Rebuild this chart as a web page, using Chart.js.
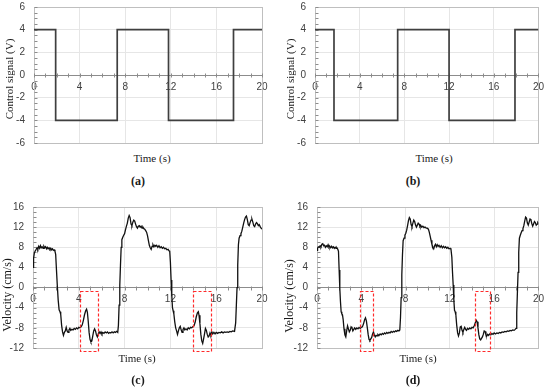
<!DOCTYPE html>
<html>
<head>
<meta charset="utf-8">
<script src="https://cdn.jsdelivr.net/npm/chart.js@4"></script>
<style>
  body { margin: 0; background: #fff; }
  #page { position: relative; width: 550px; height: 391px; overflow: hidden; font-family: "Liberation Serif", "Times New Roman", serif; color: #1a1a1a; }
  canvas { position: absolute; }
  .lbl { position: absolute; font-size: 11px; white-space: nowrap; transform: translate(-50%, -50%); }
  .ytitle { position: absolute; font-size: 11px; white-space: nowrap; transform: translate(-50%, -50%) rotate(-90deg); }
  .cap { position: absolute; font-size: 12px; font-weight: bold; transform: translate(-50%, -50%); }
</style>
</head>
<body>
<div id="page">
  <canvas id="chartA" width="275" height="150" style="left:0;top:0"></canvas>
  <canvas id="chartB" width="275" height="150" style="left:275px;top:0"></canvas>
  <canvas id="chartC" width="275" height="160" style="left:0;top:196px"></canvas>
  <canvas id="chartD" width="275" height="160" style="left:275px;top:196px"></canvas>

  <div class="ytitle" style="left:8.5px;top:79px">Control signal (V)</div>
  <div class="ytitle" style="left:290px;top:79px">Control signal (V)</div>
  <div class="ytitle" style="left:7px;top:295px;font-size:12px">Velocity (cm/s)</div>
  <div class="ytitle" style="left:289px;top:296px;font-size:12px">Velocity (cm/s)</div>

  <div class="lbl" style="left:152px;top:158px">Time (s)</div>
  <div class="lbl" style="left:434px;top:158px">Time (s)</div>
  <div class="lbl" style="left:137px;top:358px">Time (s)</div>
  <div class="lbl" style="left:418px;top:358px">Time (s)</div>

  <div class="cap" style="left:138px;top:181px">(a)</div>
  <div class="cap" style="left:413px;top:181px">(b)</div>
  <div class="cap" style="left:138px;top:380px">(c)</div>
  <div class="cap" style="left:413px;top:380px">(d)</div>
</div>
<script>
// control signal: switching times and levels (held until next switch)
const switchA = [0, 1.9, 7.3, 11.8, 17.5, 20];
const switchB = [0, 1.7, 7.4, 12.0, 17.9, 20];
const levels = [4, -4, 4, -4, 4, 4];

const signalTicks = [-6, -4, -2, 0, 2, 4, 6];
const velocityTicks = [-12, -8, -4, 0, 4, 8, 12, 16];
const timeTicks = [0, 4, 8, 12, 16, 20];

// measured velocity [time s, cm/s]
const velocityC = [
  [0,4.0],[0.05,5.8],[0.12,6.9],[0.2,7.3],[0.28,7.6],[0.35,7.9],[0.42,7.6],[0.5,8.2],[0.58,7.8],[0.65,8.3],
  [0.72,7.9],[0.8,8.1],[0.88,7.8],[0.95,8.2],[1.02,7.9],[1.1,8.1],[1.18,7.7],[1.25,8.0],[1.32,7.7],[1.4,7.9],
  [1.48,7.6],[1.55,7.8],[1.62,7.5],[1.7,7.7],[1.78,7.4],[1.85,7.5],[1.92,7.2],[1.98,6.6],[2.05,3.5],[2.12,0.5],
  [2.2,-2.5],[2.28,-4.4],[2.36,-4.8],[2.42,-5.3],[2.5,-7.5],[2.58,-8.8],[2.66,-9.5],[2.74,-8.9],[2.82,-8.6],[2.9,-7.9],
  [2.98,-8.6],[3.06,-8.9],[3.14,-8.4],[3.22,-8.1],[3.3,-8.5],[3.4,-8.3],[3.5,-8.4],[3.6,-8.1],[3.7,-8.3],[3.8,-8.0],
  [3.9,-8.2],[4.0,-7.9],[4.1,-8.0],[4.2,-7.8],[4.3,-7.4],[4.4,-6.5],[4.5,-5.4],[4.6,-4.6],[4.68,-4.3],[4.75,-4.9],
  [4.82,-6.6],[4.9,-8.9],[4.98,-10.3],[5.06,-10.8],[5.14,-10.6],[5.22,-9.6],[5.3,-8.6],[5.38,-8.2],[5.46,-8.6],[5.54,-9.4],
  [5.62,-9.8],[5.7,-9.2],[5.78,-8.8],[5.86,-9.1],[5.94,-8.8],[6.02,-9.2],[6.1,-8.9],[6.2,-9.1],[6.3,-8.8],[6.4,-9.0],
  [6.5,-8.8],[6.6,-9.1],[6.7,-8.9],[6.8,-9.0],[6.9,-8.8],[7.0,-9.0],[7.1,-8.8],[7.2,-8.9],[7.3,-8.7],[7.4,-8.9],
  [7.46,-7.5],[7.52,-3.5],[7.58,0.5],[7.64,4.5],[7.7,8.0],[7.76,9.5],[7.84,10.0],[7.92,10.4],[8.0,10.7],[8.08,11.5],
  [8.16,12.2],[8.24,12.8],[8.32,13.8],[8.4,14.3],[8.48,13.9],[8.56,12.6],[8.64,12.3],[8.72,13.0],[8.8,13.4],[8.88,13.2],
  [8.96,12.6],[9.04,12.1],[9.12,11.8],[9.2,12.2],[9.28,12.3],[9.36,12.0],[9.44,12.2],[9.52,11.8],[9.6,12.0],[9.68,11.7],
  [9.76,11.6],[9.84,11.3],[9.92,11.0],[10.0,10.3],[10.08,9.3],[10.16,8.4],[10.24,7.9],[10.32,7.6],[10.4,8.2],[10.48,8.5],
  [10.56,8.1],[10.64,8.4],[10.72,8.2],[10.8,8.4],[10.9,8.0],[11.0,8.3],[11.1,7.9],[11.2,8.1],[11.3,7.8],[11.4,8.0],
  [11.5,7.7],[11.6,7.8],[11.7,7.5],[11.8,7.6],[11.88,7.3],[11.94,7.2],[12.0,5.0],[12.06,1.5],[12.12,-1.5],[12.18,-4.0],
  [12.24,-4.6],[12.3,-5.2],[12.38,-6.8],[12.46,-8.0],[12.54,-8.6],[12.62,-9.3],[12.7,-8.6],[12.78,-8.0],[12.86,-7.7],[12.94,-8.4],
  [13.02,-8.9],[13.1,-8.3],[13.18,-8.0],[13.26,-8.4],[13.36,-8.2],[13.46,-8.4],[13.56,-8.0],[13.66,-8.2],[13.76,-7.9],[13.86,-8.0],
  [13.96,-7.8],[14.06,-7.6],[14.16,-6.9],[14.26,-5.8],[14.36,-5.0],[14.44,-4.8],[14.5,-5.5],[14.58,-7.2],[14.66,-9.3],[14.74,-10.6],
  [14.82,-11.1],[14.9,-10.2],[14.98,-9.2],[15.06,-8.1],[15.14,-8.5],[15.22,-9.3],[15.3,-9.8],[15.38,-9.6],[15.46,-9.0],[15.54,-9.4],
  [15.62,-8.8],[15.7,-9.2],[15.8,-8.9],[15.9,-9.2],[16.0,-8.9],[16.12,-9.1],[16.24,-8.9],[16.36,-9.0],[16.48,-8.8],[16.6,-9.0],
  [16.72,-8.8],[16.84,-8.9],[16.96,-8.8],[17.08,-8.9],[17.2,-8.7],[17.32,-8.8],[17.44,-8.6],[17.6,-8.7],[17.7,-7.0],[17.76,-3.5],
  [17.82,0],[17.88,4.5],[17.94,8.5],[18.0,9.8],[18.08,10.3],[18.16,10.7],[18.24,11.2],[18.32,12.0],[18.4,12.8],[18.48,13.5],
  [18.56,14.0],[18.64,14.2],[18.72,13.5],[18.8,12.5],[18.88,12.3],[18.96,12.9],[19.04,13.4],[19.12,13.6],[19.2,13.0],[19.28,12.3],
  [19.36,12.1],[19.44,12.6],[19.52,12.9],[19.6,12.7],[19.68,12.3],[19.76,12.5],[19.84,12.1],[19.92,11.8],[20,11.6]
];

const velocityD = [
  [0,7.4],[0.05,7.8],[0.12,8.1],[0.2,8.0],[0.28,8.3],[0.36,8.1],[0.44,8.6],[0.52,8.7],[0.6,8.3],[0.68,8.4],
  [0.76,8.0],[0.84,8.3],[0.92,8.1],[1.0,8.5],[1.08,8.0],[1.16,8.2],[1.24,7.9],[1.32,8.2],[1.4,7.9],[1.48,8.1],
  [1.56,7.8],[1.64,8.0],[1.72,7.8],[1.8,7.9],[1.88,7.6],[1.94,7.2],[2.0,3.5],[2.06,-0.2],[2.12,-2.8],[2.18,-4.8],
  [2.24,-5.2],[2.3,-5.4],[2.36,-6.3],[2.44,-8.2],[2.52,-9.4],[2.6,-9.8],[2.68,-8.6],[2.76,-7.6],[2.84,-8.2],[2.92,-8.8],
  [3.0,-8.5],[3.08,-7.8],[3.16,-8.0],[3.24,-8.6],[3.32,-8.3],[3.4,-8.0],[3.5,-8.3],[3.6,-8.0],[3.7,-8.2],[3.8,-7.9],
  [3.9,-8.1],[4.0,-7.9],[4.1,-7.8],[4.2,-7.2],[4.3,-6.4],[4.38,-6.0],[4.46,-6.6],[4.54,-7.9],[4.62,-9.3],[4.7,-10.3],
  [4.78,-10.5],[4.86,-10.2],[4.94,-9.9],[5.02,-9.2],[5.1,-8.8],[5.18,-9.4],[5.26,-9.8],[5.34,-9.5],[5.42,-9.6],[5.5,-9.3],
  [5.6,-9.5],[5.7,-9.2],[5.8,-9.4],[5.9,-9.1],[6.0,-9.3],[6.1,-9.0],[6.2,-9.2],[6.3,-8.9],[6.4,-9.1],[6.5,-8.9],
  [6.6,-9.0],[6.7,-8.7],[6.8,-8.9],[6.9,-8.7],[7.0,-8.8],[7.1,-8.6],[7.2,-8.7],[7.3,-8.5],[7.4,-8.6],[7.48,-8.4],
  [7.54,-6.0],[7.6,-2.0],[7.66,2.5],[7.72,6.5],[7.78,9.3],[7.86,9.8],[7.94,10.4],[8.02,10.8],[8.1,11.4],[8.18,12.3],
  [8.26,13.3],[8.34,13.9],[8.42,13.6],[8.5,12.5],[8.58,12.1],[8.66,12.8],[8.74,13.4],[8.82,13.1],[8.9,12.4],[8.98,12.0],
  [9.06,12.4],[9.14,12.8],[9.22,12.6],[9.3,12.1],[9.38,12.3],[9.46,12.0],[9.56,12.2],[9.66,11.9],[9.76,12.0],[9.86,11.8],
  [9.96,11.8],[10.06,11.6],[10.14,11.0],[10.22,10.2],[10.3,9.4],[10.38,8.6],[10.46,8.0],[10.54,7.7],[10.62,8.3],[10.7,8.6],
  [10.78,8.1],[10.86,8.5],[10.94,8.2],[11.02,8.4],[11.12,8.0],[11.22,8.3],[11.32,7.9],[11.42,8.2],[11.52,7.9],[11.62,8.1],
  [11.72,7.8],[11.82,8.0],[11.92,7.7],[12.02,7.8],[12.1,7.6],[12.18,6.0],[12.24,3.0],[12.3,0.5],[12.36,-2.5],[12.42,-4.5],
  [12.48,-4.8],[12.54,-5.4],[12.62,-7.5],[12.7,-9.0],[12.78,-9.6],[12.86,-9.0],[12.94,-7.8],[13.02,-7.7],[13.1,-8.5],[13.18,-8.9],
  [13.26,-8.3],[13.34,-7.9],[13.42,-8.3],[13.5,-8.5],[13.6,-8.1],[13.7,-8.3],[13.8,-8.0],[13.9,-8.2],[14.0,-7.9],[14.1,-8.0],
  [14.2,-7.6],[14.3,-7.0],[14.38,-6.5],[14.46,-6.8],[14.54,-8.0],[14.62,-9.4],[14.7,-10.2],[14.78,-10.4],[14.86,-10.1],[14.94,-9.8],
  [15.02,-9.3],[15.1,-8.6],[15.18,-8.7],[15.26,-9.4],[15.34,-9.6],[15.42,-9.3],[15.5,-9.5],[15.6,-9.2],[15.7,-9.4],[15.8,-9.1],
  [15.9,-9.3],[16.0,-9.0],[16.12,-9.2],[16.24,-9.0],[16.36,-9.1],[16.48,-8.9],[16.6,-9.0],[16.72,-8.8],[16.84,-8.9],[16.96,-8.7],
  [17.08,-8.8],[17.2,-8.6],[17.32,-8.7],[17.44,-8.5],[17.56,-8.6],[17.68,-8.4],[17.8,-8.5],[17.9,-8.3],[17.98,-8.1],[18.04,-5.0],
  [18.1,-1.0],[18.16,3.0],[18.22,7.0],[18.28,9.8],[18.36,10.4],[18.44,10.9],[18.52,11.3],[18.6,11.7],[18.68,12.3],[18.76,13.2],
  [18.84,14.0],[18.92,13.8],[19.0,12.8],[19.08,12.4],[19.16,13.0],[19.24,13.6],[19.32,13.5],[19.4,12.7],[19.48,12.2],[19.56,12.6],
  [19.64,13.1],[19.72,12.9],[19.8,12.4],[19.88,12.6],[19.94,12.9],[20,12.7]
];

// highlighted regions: [tStart, tEnd], vertical span [vTop, vBottom]
const boxesC = [[4.1, 5.65], [14.0, 15.55]];
const boxesD = [[3.85, 5.1], [14.25, 15.58]];
const boxSpan = [-0.6, -12.6];

const tickFont = { family: "'Liberation Sans', Arial, sans-serif", size: 10 };

// frame, minor ticks, dashed highlight boxes
const frame = {
  id: "frame",
  beforeDatasetsDraw(chart, args, opts) {
    const { ctx, chartArea: a, scales: { x, y } } = chart;
    ctx.save();
    ctx.strokeStyle = "#bfbfbf";
    ctx.lineWidth = 1;
    ctx.strokeRect(Math.round(a.left) + 0.5, Math.round(a.top) + 0.5,
      Math.round(a.right - a.left), Math.round(a.bottom - a.top));

    ctx.strokeStyle = "#8c8c8c";
    ctx.beginPath();
    const y0 = Math.round(y.getPixelForValue(0)) + 0.5;
    for (let v = x.min; v <= x.max; v += 1) {
      const px = Math.round(x.getPixelForValue(v)) + 0.5;
      ctx.moveTo(px, y0 - 2);
      ctx.lineTo(px, y0 + 2);
    }
    const x0 = Math.round(a.left) + 0.5;
    for (let v = y.min; v <= y.max; v += opts.minor) {
      const py = Math.round(y.getPixelForValue(v)) + 0.5;
      ctx.moveTo(x0, py);
      ctx.lineTo(x0 + 3, py);
    }
    ctx.stroke();
    ctx.restore();
  },
  afterDatasetsDraw(chart, args, opts) {
    if (!opts.boxes) return;
    const { ctx, scales: { x, y } } = chart;
    opts.boxes.forEach(([t0, t1]) => {
      const l = Math.round(x.getPixelForValue(t0)) + 0.5;
      const r = Math.round(x.getPixelForValue(t1)) + 0.5;
      const t = Math.round(y.getPixelForValue(boxSpan[0])) + 0.5;
      const b = Math.round(y.getPixelForValue(boxSpan[1])) + 0.5;
      ctx.save();
      ctx.strokeStyle = "#ff2a2a";
      ctx.lineWidth = 1.2;
      ctx.setLineDash([3, 2]);
      ctx.beginPath();
      ctx.rect(l, t, r - l, b - t);
      ctx.stroke();
      ctx.restore();
    });
  }
};

function makeChart(id, data, dsStyle, yTicks, minor, pad, yWidth, boxes) {
  new Chart(document.getElementById(id), {
    type: "line",
    data: { datasets: [Object.assign({ data: data, pointRadius: 0, fill: false }, dsStyle)] },
    plugins: [frame],
    options: {
      responsive: false,
      animation: false,
      events: [],
      layout: { padding: pad },
      plugins: {
        legend: { display: false },
        tooltip: { enabled: false },
        frame: { minor: minor, boxes: boxes }
      },
      scales: {
        x: {
          type: "linear",
          position: { y: 0 },
          min: timeTicks[0],
          max: timeTicks[timeTicks.length - 1],
          afterBuildTicks(s) { s.ticks = timeTicks.map(v => ({ value: v })); },
          ticks: { font: tickFont, color: "#404040", padding: 6, maxRotation: 0 },
          grid: { color: "#e6e6e6", drawTicks: false },
          border: { color: "#8c8c8c" }
        },
        y: {
          min: yTicks[0],
          max: yTicks[yTicks.length - 1],
          afterBuildTicks(s) { s.ticks = yTicks.map(v => ({ value: v })); },
          afterFit(s) { s.width = yWidth; },
          ticks: { font: tickFont, color: "#404040", padding: 0 },
          grid: { color: "#e6e6e6", drawTicks: true, tickLength: 9, tickColor: "rgba(0,0,0,0)" },
          border: { display: false }
        }
      }
    }
  });
}

const stepData = (times) => times.map((t, i) => [t, levels[i]]);
const squareStyle = { borderColor: "#3f3f3f", borderWidth: 1.7, stepped: true };
const velStyle = { borderColor: "#111111", borderWidth: 1.3, tension: 0 };

makeChart("chartA", stepData(switchA), squareStyle, signalTicks, 0.5,
  { left: 0, top: 7, right: 13, bottom: 7 }, 34, null);
makeChart("chartB", stepData(switchB), squareStyle, signalTicks, 0.5,
  { left: 0, top: 7, right: 7, bottom: 7 }, 40, null);
makeChart("chartC", velocityC, velStyle, velocityTicks, 1,
  { left: 0, top: 11, right: 13, bottom: 8 }, 33, boxesC);
makeChart("chartD", velocityD, velStyle, velocityTicks, 1,
  { left: 0, top: 11, right: 7, bottom: 8 }, 42, boxesD);
</script>
</body>
</html>
